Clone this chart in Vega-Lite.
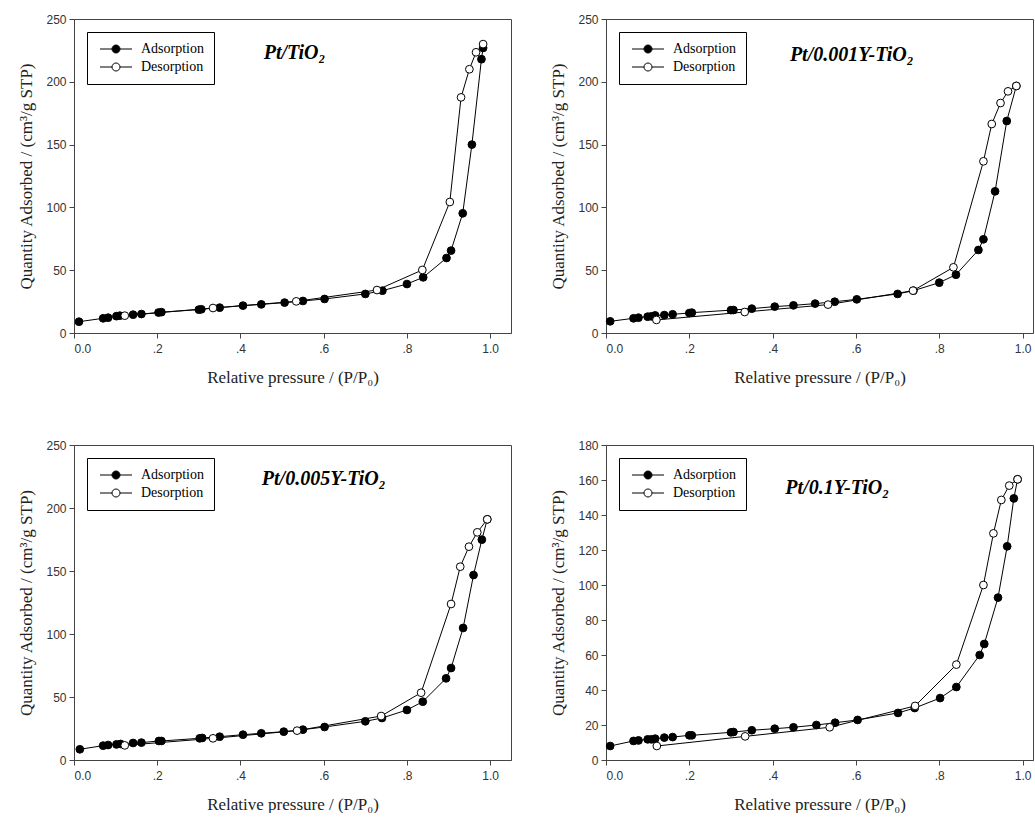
{
  "$schema": "https://vega.github.io/schema/vega-lite/v6.json",
  "padding": {"left": 17, "top": 12, "right": 0, "bottom": 0},
  "background": "white",
  "columns": 2,
  "spacing": {"row": 52, "column": 37},
  "config": {
    "view": {"stroke": "#444", "strokeWidth": 1},
    "axis": {"grid": false, "domainColor": "#444", "tickColor": "#444", "labelFont": "Liberation Sans", "labelFontSize": 12, "labelColor": "#333", "labelOverlap": false, "titleFont": "Liberation Serif", "titleFontSize": 17, "titleFontWeight": "normal", "titleColor": "#222", "tickSize": 5, "labelPadding": 3},
    "axisX": {"titlePadding": 15, "labelPadding": 5},
    "axisY": {"titlePadding": 10},
    "legend": {"orient": "top-left", "offset": 13, "strokeColor": "black", "padding": 10, "fillColor": "white", "labelFont": "Liberation Serif", "labelFontSize": 14, "labelColor": "black", "symbolType": "M-4,0L-1,0M1,0L4,0M-1,0A1,1,0,1,1,1,0A1,1,0,1,1,-1,0Z", "symbolSize": 64, "symbolStrokeColor": "black", "symbolStrokeWidth": 1, "rowPadding": 4, "symbolOffset": 12, "labelOffset": 18, "labelLimit": 200}
  },
  "resolve": {"scale": {"x": "independent", "y": "independent", "fill": "independent"}, "legend": {"fill": "independent"}},
  "datasets": {
    "p1": [
      {"s": "Adsorption", "x": 0.012, "y": 9.0}, {"s": "Adsorption", "x": 0.07, "y": 11.7}, {"s": "Adsorption", "x": 0.082, "y": 12.2}, {"s": "Adsorption", "x": 0.102, "y": 13.4}, {"s": "Adsorption", "x": 0.11, "y": 13.8}, {"s": "Adsorption", "x": 0.142, "y": 14.6}, {"s": "Adsorption", "x": 0.162, "y": 15.1}, {"s": "Adsorption", "x": 0.203, "y": 16.3}, {"s": "Adsorption", "x": 0.21, "y": 16.6}, {"s": "Adsorption", "x": 0.3, "y": 18.6}, {"s": "Adsorption", "x": 0.306, "y": 18.9}, {"s": "Adsorption", "x": 0.35, "y": 20.2}, {"s": "Adsorption", "x": 0.406, "y": 21.8}, {"s": "Adsorption", "x": 0.45, "y": 22.8}, {"s": "Adsorption", "x": 0.506, "y": 24.2}, {"s": "Adsorption", "x": 0.55, "y": 25.5}, {"s": "Adsorption", "x": 0.602, "y": 27.1}, {"s": "Adsorption", "x": 0.70, "y": 31.1}, {"s": "Adsorption", "x": 0.741, "y": 33.7}, {"s": "Adsorption", "x": 0.80, "y": 39.0}, {"s": "Adsorption", "x": 0.839, "y": 44.3}, {"s": "Adsorption", "x": 0.895, "y": 59.7}, {"s": "Adsorption", "x": 0.906, "y": 65.6}, {"s": "Adsorption", "x": 0.934, "y": 95.3}, {"s": "Adsorption", "x": 0.956, "y": 150}, {"s": "Adsorption", "x": 0.979, "y": 218}, {"s": "Adsorption", "x": 0.983, "y": 227},
      {"s": "Desorption", "x": 0.983, "y": 230}, {"s": "Desorption", "x": 0.966, "y": 223.5}, {"s": "Desorption", "x": 0.95, "y": 210}, {"s": "Desorption", "x": 0.93, "y": 187.6}, {"s": "Desorption", "x": 0.903, "y": 104.3}, {"s": "Desorption", "x": 0.837, "y": 50.2}, {"s": "Desorption", "x": 0.728, "y": 34.2}, {"s": "Desorption", "x": 0.534, "y": 25.2}, {"s": "Desorption", "x": 0.334, "y": 19.9}, {"s": "Desorption", "x": 0.122, "y": 13.8}
    ],
    "p2": [
      {"s": "Adsorption", "x": 0.01, "y": 9.3}, {"s": "Adsorption", "x": 0.066, "y": 11.7}, {"s": "Adsorption", "x": 0.078, "y": 12.2}, {"s": "Adsorption", "x": 0.1, "y": 13.0}, {"s": "Adsorption", "x": 0.109, "y": 13.3}, {"s": "Adsorption", "x": 0.118, "y": 14.0}, {"s": "Adsorption", "x": 0.14, "y": 14.3}, {"s": "Adsorption", "x": 0.16, "y": 14.9}, {"s": "Adsorption", "x": 0.2, "y": 15.9}, {"s": "Adsorption", "x": 0.206, "y": 16.2}, {"s": "Adsorption", "x": 0.3, "y": 18.2}, {"s": "Adsorption", "x": 0.306, "y": 18.3}, {"s": "Adsorption", "x": 0.35, "y": 19.4}, {"s": "Adsorption", "x": 0.405, "y": 21.0}, {"s": "Adsorption", "x": 0.45, "y": 22.0}, {"s": "Adsorption", "x": 0.502, "y": 23.4}, {"s": "Adsorption", "x": 0.549, "y": 24.9}, {"s": "Adsorption", "x": 0.602, "y": 26.8}, {"s": "Adsorption", "x": 0.70, "y": 31.1}, {"s": "Adsorption", "x": 0.738, "y": 33.7}, {"s": "Adsorption", "x": 0.80, "y": 40.1}, {"s": "Adsorption", "x": 0.84, "y": 46.4}, {"s": "Adsorption", "x": 0.894, "y": 66.1}, {"s": "Adsorption", "x": 0.906, "y": 74.6}, {"s": "Adsorption", "x": 0.934, "y": 112.8}, {"s": "Adsorption", "x": 0.962, "y": 168.8}, {"s": "Adsorption", "x": 0.985, "y": 196.7},
      {"s": "Desorption", "x": 0.985, "y": 196.7}, {"s": "Desorption", "x": 0.965, "y": 192.4}, {"s": "Desorption", "x": 0.947, "y": 183.1}, {"s": "Desorption", "x": 0.926, "y": 166.4}, {"s": "Desorption", "x": 0.906, "y": 136.7}, {"s": "Desorption", "x": 0.834, "y": 52.3}, {"s": "Desorption", "x": 0.737, "y": 33.7}, {"s": "Desorption", "x": 0.533, "y": 22.6}, {"s": "Desorption", "x": 0.333, "y": 16.7}, {"s": "Desorption", "x": 0.121, "y": 10.4}
    ],
    "p3": [
      {"s": "Adsorption", "x": 0.014, "y": 8.5}, {"s": "Adsorption", "x": 0.07, "y": 11.4}, {"s": "Adsorption", "x": 0.082, "y": 11.9}, {"s": "Adsorption", "x": 0.102, "y": 12.4}, {"s": "Adsorption", "x": 0.112, "y": 12.7}, {"s": "Adsorption", "x": 0.142, "y": 13.5}, {"s": "Adsorption", "x": 0.162, "y": 13.8}, {"s": "Adsorption", "x": 0.204, "y": 15.1}, {"s": "Adsorption", "x": 0.21, "y": 15.1}, {"s": "Adsorption", "x": 0.302, "y": 17.2}, {"s": "Adsorption", "x": 0.308, "y": 17.5}, {"s": "Adsorption", "x": 0.35, "y": 18.5}, {"s": "Adsorption", "x": 0.406, "y": 20.1}, {"s": "Adsorption", "x": 0.45, "y": 21.2}, {"s": "Adsorption", "x": 0.504, "y": 22.5}, {"s": "Adsorption", "x": 0.55, "y": 24.1}, {"s": "Adsorption", "x": 0.602, "y": 26.2}, {"s": "Adsorption", "x": 0.70, "y": 30.7}, {"s": "Adsorption", "x": 0.74, "y": 33.3}, {"s": "Adsorption", "x": 0.80, "y": 39.7}, {"s": "Adsorption", "x": 0.838, "y": 46.3}, {"s": "Adsorption", "x": 0.894, "y": 64.8}, {"s": "Adsorption", "x": 0.906, "y": 73.0}, {"s": "Adsorption", "x": 0.935, "y": 104.8}, {"s": "Adsorption", "x": 0.96, "y": 146.8}, {"s": "Adsorption", "x": 0.98, "y": 174.9}, {"s": "Adsorption", "x": 0.993, "y": 191},
      {"s": "Desorption", "x": 0.993, "y": 191}, {"s": "Desorption", "x": 0.969, "y": 180.7}, {"s": "Desorption", "x": 0.949, "y": 169.3}, {"s": "Desorption", "x": 0.928, "y": 153.4}, {"s": "Desorption", "x": 0.906, "y": 123.8}, {"s": "Desorption", "x": 0.834, "y": 53.4}, {"s": "Desorption", "x": 0.738, "y": 34.9}, {"s": "Desorption", "x": 0.536, "y": 23.3}, {"s": "Desorption", "x": 0.334, "y": 17.2}, {"s": "Desorption", "x": 0.122, "y": 11.6}
    ],
    "p4": [
      {"s": "Adsorption", "x": 0.01, "y": 8.0}, {"s": "Adsorption", "x": 0.066, "y": 10.9}, {"s": "Adsorption", "x": 0.078, "y": 11.2}, {"s": "Adsorption", "x": 0.1, "y": 11.8}, {"s": "Adsorption", "x": 0.109, "y": 11.8}, {"s": "Adsorption", "x": 0.118, "y": 12.2}, {"s": "Adsorption", "x": 0.14, "y": 12.8}, {"s": "Adsorption", "x": 0.16, "y": 13.1}, {"s": "Adsorption", "x": 0.2, "y": 14.1}, {"s": "Adsorption", "x": 0.206, "y": 14.1}, {"s": "Adsorption", "x": 0.3, "y": 15.8}, {"s": "Adsorption", "x": 0.306, "y": 16.0}, {"s": "Adsorption", "x": 0.35, "y": 17.0}, {"s": "Adsorption", "x": 0.405, "y": 17.9}, {"s": "Adsorption", "x": 0.45, "y": 18.7}, {"s": "Adsorption", "x": 0.505, "y": 20.0}, {"s": "Adsorption", "x": 0.55, "y": 21.3}, {"s": "Adsorption", "x": 0.604, "y": 22.9}, {"s": "Adsorption", "x": 0.701, "y": 26.9}, {"s": "Adsorption", "x": 0.741, "y": 29.7}, {"s": "Adsorption", "x": 0.802, "y": 35.4}, {"s": "Adsorption", "x": 0.841, "y": 41.7}, {"s": "Adsorption", "x": 0.897, "y": 60.0}, {"s": "Adsorption", "x": 0.908, "y": 66.3}, {"s": "Adsorption", "x": 0.941, "y": 92.8}, {"s": "Adsorption", "x": 0.963, "y": 122.1}, {"s": "Adsorption", "x": 0.979, "y": 149.5}, {"s": "Adsorption", "x": 0.988, "y": 160.4},
      {"s": "Desorption", "x": 0.988, "y": 160.4}, {"s": "Desorption", "x": 0.968, "y": 156.8}, {"s": "Desorption", "x": 0.949, "y": 148.6}, {"s": "Desorption", "x": 0.93, "y": 129.5}, {"s": "Desorption", "x": 0.906, "y": 100.0}, {"s": "Desorption", "x": 0.841, "y": 54.5}, {"s": "Desorption", "x": 0.742, "y": 30.9}, {"s": "Desorption", "x": 0.537, "y": 18.7}, {"s": "Desorption", "x": 0.334, "y": 13.5}, {"s": "Desorption", "x": 0.122, "y": 8.0}
    ],
    "titles": [
      {"panel": 1, "t": "Pt/TiO₂"},
      {"panel": 2, "t": "Pt/0.001Y-TiO₂"},
      {"panel": 3, "t": "Pt/0.005Y-TiO₂"},
      {"panel": 4, "t": "Pt/0.1Y-TiO₂"}
    ]
  },
  "concat": [
    {
      "width": 437, "height": 314,
      "layer": [
        {"data": {"name": "p1"}, "mark": {"type": "line", "color": "black", "strokeWidth": 1},
         "encoding": {
          "x": {"field": "x", "type": "quantitative", "scale": {"domain": [0, 1.05], "nice": false}, "axis": {"values": [0, 0.2, 0.4, 0.6, 0.8, 1], "labelExpr": "datum.value == 0 ? '0.0' : datum.value == 1 ? '1.0' : '.' + round(datum.value*10)", "title": "Relative pressure / (P/P₀)"}},
          "y": {"field": "y", "type": "quantitative", "scale": {"domain": [0, 250], "nice": false}, "axis": {"values": [0, 50, 100, 150, 200, 250], "title": "Quantity Adsorbed / (cm³/g STP)"}},
          "detail": {"field": "s"}}},
        {"data": {"name": "p1"}, "mark": {"type": "point", "shape": "circle", "filled": true, "size": 60, "stroke": "black", "strokeWidth": 1, "opacity": 1},
         "encoding": {
          "x": {"field": "x", "type": "quantitative", "axis": {"values": [0, 0.2, 0.4, 0.6, 0.8, 1], "labelExpr": "datum.value == 0 ? '0.0' : datum.value == 1 ? '1.0' : '.' + round(datum.value*10)", "title": "Relative pressure / (P/P₀)"}},
          "y": {"field": "y", "type": "quantitative", "axis": {"values": [0, 50, 100, 150, 200, 250], "title": "Quantity Adsorbed / (cm³/g STP)"}},
          "fill": {"field": "s", "type": "nominal", "scale": {"domain": ["Adsorption", "Desorption"], "range": ["black", "white"]}, "legend": {"title": null}}}},
        {"data": {"name": "titles"}, "transform": [{"filter": "datum.panel == 1"}], "mark": {"type": "text", "font": "Liberation Serif", "fontSize": 20, "fontWeight": "bold", "fontStyle": "italic", "fill": "black"},
         "encoding": {
          "x": {"datum": 0.53, "type": "quantitative", "axis": {"values": [0, 0.2, 0.4, 0.6, 0.8, 1], "labelExpr": "datum.value == 0 ? '0.0' : datum.value == 1 ? '1.0' : '.' + round(datum.value*10)", "title": "Relative pressure / (P/P₀)"}},
          "y": {"datum": 223, "type": "quantitative", "axis": {"values": [0, 50, 100, 150, 200, 250], "title": "Quantity Adsorbed / (cm³/g STP)"}},
          "text": {"field": "t", "type": "nominal"}}}
      ]
    },
    {
      "width": 427, "height": 314,
      "layer": [
        {"data": {"name": "p2"}, "mark": {"type": "line", "color": "black", "strokeWidth": 1},
         "encoding": {
          "x": {"field": "x", "type": "quantitative", "scale": {"domain": [0, 1.025], "nice": false}, "axis": {"values": [0, 0.2, 0.4, 0.6, 0.8, 1], "labelExpr": "datum.value == 0 ? '0.0' : datum.value == 1 ? '1.0' : '.' + round(datum.value*10)", "title": "Relative pressure / (P/P₀)"}},
          "y": {"field": "y", "type": "quantitative", "scale": {"domain": [0, 250], "nice": false}, "axis": {"values": [0, 50, 100, 150, 200, 250], "title": "Quantity Adsorbed / (cm³/g STP)"}},
          "detail": {"field": "s"}}},
        {"data": {"name": "p2"}, "mark": {"type": "point", "shape": "circle", "filled": true, "size": 60, "stroke": "black", "strokeWidth": 1, "opacity": 1},
         "encoding": {
          "x": {"field": "x", "type": "quantitative", "axis": {"values": [0, 0.2, 0.4, 0.6, 0.8, 1], "labelExpr": "datum.value == 0 ? '0.0' : datum.value == 1 ? '1.0' : '.' + round(datum.value*10)", "title": "Relative pressure / (P/P₀)"}},
          "y": {"field": "y", "type": "quantitative", "axis": {"values": [0, 50, 100, 150, 200, 250], "title": "Quantity Adsorbed / (cm³/g STP)"}},
          "fill": {"field": "s", "type": "nominal", "scale": {"domain": ["Adsorption", "Desorption"], "range": ["black", "white"]}, "legend": {"title": null}}}},
        {"data": {"name": "titles"}, "transform": [{"filter": "datum.panel == 2"}], "mark": {"type": "text", "font": "Liberation Serif", "fontSize": 20, "fontWeight": "bold", "fontStyle": "italic", "fill": "black"},
         "encoding": {
          "x": {"datum": 0.59, "type": "quantitative", "axis": {"values": [0, 0.2, 0.4, 0.6, 0.8, 1], "labelExpr": "datum.value == 0 ? '0.0' : datum.value == 1 ? '1.0' : '.' + round(datum.value*10)", "title": "Relative pressure / (P/P₀)"}},
          "y": {"datum": 221, "type": "quantitative", "axis": {"values": [0, 50, 100, 150, 200, 250], "title": "Quantity Adsorbed / (cm³/g STP)"}},
          "text": {"field": "t", "type": "nominal"}}}
      ]
    },
    {
      "width": 437, "height": 315,
      "layer": [
        {"data": {"name": "p3"}, "mark": {"type": "line", "color": "black", "strokeWidth": 1},
         "encoding": {
          "x": {"field": "x", "type": "quantitative", "scale": {"domain": [0, 1.05], "nice": false}, "axis": {"values": [0, 0.2, 0.4, 0.6, 0.8, 1], "labelExpr": "datum.value == 0 ? '0.0' : datum.value == 1 ? '1.0' : '.' + round(datum.value*10)", "title": "Relative pressure / (P/P₀)"}},
          "y": {"field": "y", "type": "quantitative", "scale": {"domain": [0, 250], "nice": false}, "axis": {"values": [0, 50, 100, 150, 200, 250], "title": "Quantity Adsorbed / (cm³/g STP)"}},
          "detail": {"field": "s"}}},
        {"data": {"name": "p3"}, "mark": {"type": "point", "shape": "circle", "filled": true, "size": 60, "stroke": "black", "strokeWidth": 1, "opacity": 1},
         "encoding": {
          "x": {"field": "x", "type": "quantitative", "axis": {"values": [0, 0.2, 0.4, 0.6, 0.8, 1], "labelExpr": "datum.value == 0 ? '0.0' : datum.value == 1 ? '1.0' : '.' + round(datum.value*10)", "title": "Relative pressure / (P/P₀)"}},
          "y": {"field": "y", "type": "quantitative", "axis": {"values": [0, 50, 100, 150, 200, 250], "title": "Quantity Adsorbed / (cm³/g STP)"}},
          "fill": {"field": "s", "type": "nominal", "scale": {"domain": ["Adsorption", "Desorption"], "range": ["black", "white"]}, "legend": {"title": null}}}},
        {"data": {"name": "titles"}, "transform": [{"filter": "datum.panel == 3"}], "mark": {"type": "text", "font": "Liberation Serif", "fontSize": 20, "fontWeight": "bold", "fontStyle": "italic", "fill": "black"},
         "encoding": {
          "x": {"datum": 0.60, "type": "quantitative", "axis": {"values": [0, 0.2, 0.4, 0.6, 0.8, 1], "labelExpr": "datum.value == 0 ? '0.0' : datum.value == 1 ? '1.0' : '.' + round(datum.value*10)", "title": "Relative pressure / (P/P₀)"}},
          "y": {"datum": 223, "type": "quantitative", "axis": {"values": [0, 50, 100, 150, 200, 250], "title": "Quantity Adsorbed / (cm³/g STP)"}},
          "text": {"field": "t", "type": "nominal"}}}
      ]
    },
    {
      "width": 427, "height": 315,
      "layer": [
        {"data": {"name": "p4"}, "mark": {"type": "line", "color": "black", "strokeWidth": 1},
         "encoding": {
          "x": {"field": "x", "type": "quantitative", "scale": {"domain": [0, 1.025], "nice": false}, "axis": {"values": [0, 0.2, 0.4, 0.6, 0.8, 1], "labelExpr": "datum.value == 0 ? '0.0' : datum.value == 1 ? '1.0' : '.' + round(datum.value*10)", "title": "Relative pressure / (P/P₀)"}},
          "y": {"field": "y", "type": "quantitative", "scale": {"domain": [0, 180], "nice": false}, "axis": {"values": [0, 20, 40, 60, 80, 100, 120, 140, 160, 180], "title": "Quantity Adsorbed / (cm³/g STP)"}},
          "detail": {"field": "s"}}},
        {"data": {"name": "p4"}, "mark": {"type": "point", "shape": "circle", "filled": true, "size": 60, "stroke": "black", "strokeWidth": 1, "opacity": 1},
         "encoding": {
          "x": {"field": "x", "type": "quantitative", "axis": {"values": [0, 0.2, 0.4, 0.6, 0.8, 1], "labelExpr": "datum.value == 0 ? '0.0' : datum.value == 1 ? '1.0' : '.' + round(datum.value*10)", "title": "Relative pressure / (P/P₀)"}},
          "y": {"field": "y", "type": "quantitative", "axis": {"values": [0, 20, 40, 60, 80, 100, 120, 140, 160, 180], "title": "Quantity Adsorbed / (cm³/g STP)"}},
          "fill": {"field": "s", "type": "nominal", "scale": {"domain": ["Adsorption", "Desorption"], "range": ["black", "white"]}, "legend": {"title": null}}}},
        {"data": {"name": "titles"}, "transform": [{"filter": "datum.panel == 4"}], "mark": {"type": "text", "font": "Liberation Serif", "fontSize": 20, "fontWeight": "bold", "fontStyle": "italic", "fill": "black"},
         "encoding": {
          "x": {"datum": 0.555, "type": "quantitative", "axis": {"values": [0, 0.2, 0.4, 0.6, 0.8, 1], "labelExpr": "datum.value == 0 ? '0.0' : datum.value == 1 ? '1.0' : '.' + round(datum.value*10)", "title": "Relative pressure / (P/P₀)"}},
          "y": {"datum": 155.5, "type": "quantitative", "axis": {"values": [0, 20, 40, 60, 80, 100, 120, 140, 160, 180], "title": "Quantity Adsorbed / (cm³/g STP)"}},
          "text": {"field": "t", "type": "nominal"}}}
      ]
    }
  ]
}
